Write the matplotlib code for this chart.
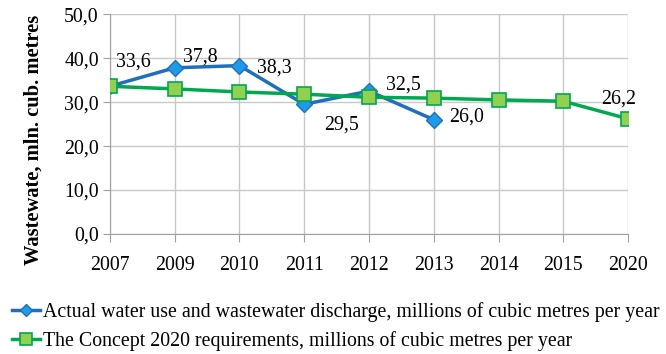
import matplotlib
matplotlib.use("Agg")
import matplotlib.pyplot as plt
from matplotlib.ticker import FuncFormatter, MultipleLocator

years = ["2007", "2009", "2010", "2011", "2012", "2013", "2014", "2015", "2020"]
actual = [33.6, 37.8, 38.3, 29.5, 32.5, 26.0]
concept = [33.6, 33.0, 32.3, 31.8, 31.1, 30.9, 30.5, 30.2, 26.2]
actual_label = "Actual water use and wastewater discharge, millions of cubic metres per year"
concept_label = "The Concept 2020 requirements, millions of cubic metres per year"
ylabel = "Wastewate, mln. cub. metres"

plt.rcParams['font.family'] = ['Liberation Serif', 'DejaVu Serif']
fs = 14.3

fig = plt.figure(figsize=(6.66, 3.54), dpi=100)
ax = fig.add_axes([0.165, 0.339, 0.778, 0.621])

x = list(range(len(years)))
lc, = ax.plot(x, concept, color="#00A84F", lw=2.5, marker="s", ms=10,
              mfc="#92D050", mec="#00A84F", mew=1.2, zorder=3, label=concept_label)
la, = ax.plot(x[:len(actual)], actual, color="#1F6FC0", lw=2.5, marker="D", ms=8,
              mfc="#1E9BE8", mec="#1F6FC0", mew=1.0, zorder=2, label=actual_label)

offsets = [(23, 24), (26, 11), (35, -2), (37, -21), (34, 6), (33, 3)]
for i, (v, off) in enumerate(zip(actual, offsets)):
    ax.annotate(f"{v:.1f}".replace(".", ","), (x[i], v), xytext=off,
                textcoords="offset pixels", ha="center", va="center", fontsize=fs)
ax.annotate(f"{concept[-1]:.1f}".replace(".", ","), (x[-1], concept[-1]), xytext=(-9, 20),
            textcoords="offset pixels", ha="center", va="center", fontsize=fs)

ax.set_xlim(0, len(years) - 1)
ax.set_ylim(0, 50)
ax.set_xticks(x)
ax.set_xticklabels(years, fontsize=fs)
ax.yaxis.set_major_locator(MultipleLocator(10))
ax.yaxis.set_major_formatter(FuncFormatter(lambda v, p: f"{v:.1f}".replace(".", ",")))
ax.tick_params(axis="y", labelsize=fs, length=5, color="#A0A0A0", pad=3)
ax.tick_params(axis="x", length=6, color="#A0A0A0", pad=10)
ax.grid(True, color="#C8C8C8", lw=1)
ax.set_axisbelow(True)
for s in ["top", "right"]:
    ax.spines[s].set_visible(False)
for s in ["left", "bottom"]:
    ax.spines[s].set_color("#A0A0A0")
fig.text(34 / 666, 1 - 140 / 354, ylabel, rotation=90, ha="center", va="center",
         fontsize=14.8, fontweight="bold")

fig.legend([la, lc], [actual_label, concept_label], loc="lower left",
           bbox_to_anchor=(0.0, -0.025), frameon=False, fontsize=fs,
           handlelength=1.4, handletextpad=0.15, labelspacing=0.45,
           borderaxespad=0.2, markerscale=0.8)

fig.savefig("out.png", dpi=100)
